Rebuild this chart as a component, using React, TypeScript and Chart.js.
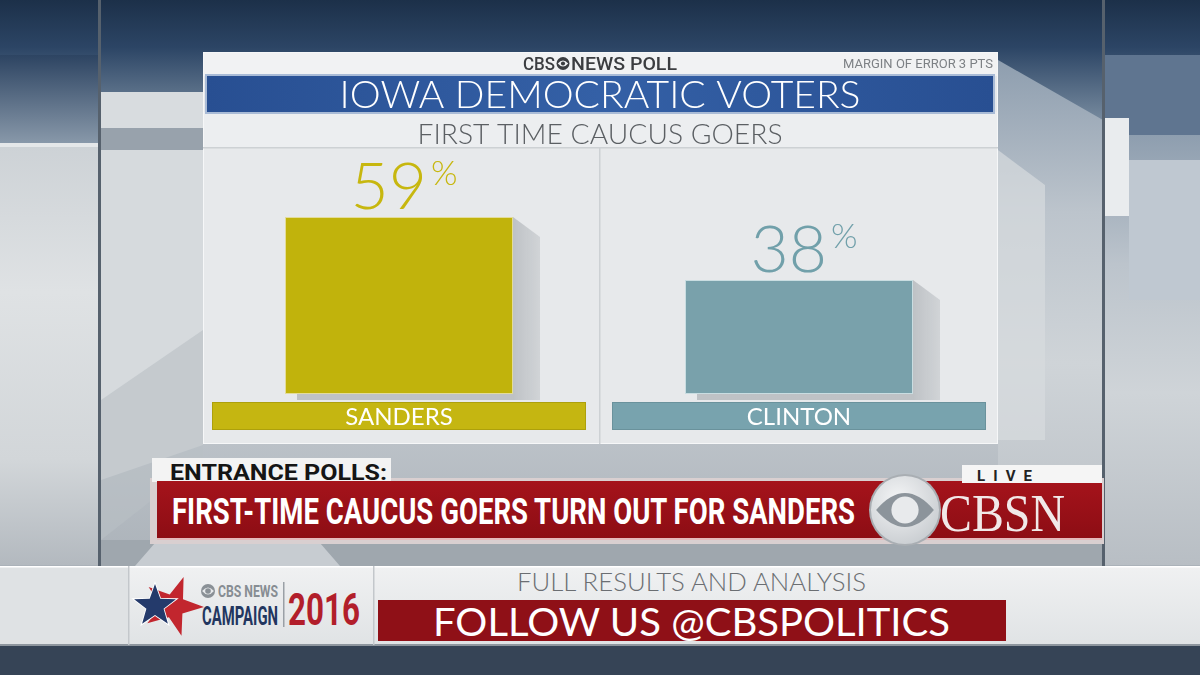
import React, { useEffect, useRef } from 'react';
import { Chart, registerables } from 'chart.js';

Chart.register(...registerables);

// ---- data ----
const candidates = ['SANDERS', 'CLINTON'];
const shares = [59, 38];
const valueSuffix = '%';
const yMin = 0;
const yMax = 80;

// ---- texts ----
const pollBrandLeft = 'CBS';
const pollBrandRight = 'NEWS POLL';
const marginNote = 'MARGIN OF ERROR 3 PTS';
const chartTitle = 'IOWA DEMOCRATIC VOTERS';
const chartSubtitle = 'FIRST TIME CAUCUS GOERS';
const tabText = 'ENTRANCE POLLS:';
const headline = 'FIRST-TIME CAUCUS GOERS TURN OUT FOR SANDERS';
const liveText = 'LIVE';
const networkText = 'CBSN';
const promoTop = 'FULL RESULTS AND ANALYSIS';
const promoMain = 'FOLLOW US @CBSPOLITICS';
const logoSmall = 'CBS NEWS';
const logoMid = 'CAMPAIGN';
const logoYear = '2016';

// ---- styles ----
const barFill = ['#c1b30c', '#79a1ab'];
const barEdge = ['#e3dc9a', '#c9dde1'];
const stripFill = ['#c5b611', '#78a3ae'];
const stripEdge = ['#ada00c', '#6a929c'];
const valueColor = ['#c7b70f', '#71a0aa'];
const THIN = '"Lato", "Open Sans", "Roboto", sans-serif';
const COND = 'Roboto, "Liberation Sans", sans-serif';

function fitText(ctx: CanvasRenderingContext2D, text: string, x: number, y: number, w: number, align: CanvasTextAlign) {
  const m = ctx.measureText(text).width;
  ctx.save();
  ctx.textAlign = align;
  ctx.translate(x, y);
  ctx.scale(w / m, 1);
  ctx.fillText(text, 0, 0);
  ctx.restore();
}

function drawEye(ctx: CanvasRenderingContext2D, cx: number, cy: number, r: number, color: string) {
  ctx.save();
  ctx.fillStyle = color;
  ctx.beginPath();
  ctx.arc(cx, cy, r, 0, Math.PI * 2);
  ctx.fill();
  ctx.fillStyle = '#f1f2f3';
  ctx.beginPath();
  ctx.moveTo(cx - r * 0.8, cy);
  ctx.quadraticCurveTo(cx, cy - r * 0.95, cx + r * 0.8, cy);
  ctx.quadraticCurveTo(cx, cy + r * 0.95, cx - r * 0.8, cy);
  ctx.fill();
  ctx.fillStyle = color;
  ctx.beginPath();
  ctx.arc(cx, cy, r * 0.32, 0, Math.PI * 2);
  ctx.fill();
  ctx.restore();
}

const panelPlugin = {
  id: 'panelPlugin',
  beforeDatasetsDraw(chart: any) {
    const ctx: CanvasRenderingContext2D = chart.ctx;
    const area = chart.chartArea;
    const midX = (area.left + area.right) / 2;
    ctx.save();
    ctx.textBaseline = 'alphabetic';
    // header brand
    ctx.fillStyle = '#3b3d40';
    ctx.font = `500 19px ${COND}`;
    fitText(ctx, pollBrandLeft, 356, 18, 32, 'right');
    drawEye(ctx, 364, 11.5, 6.5, '#3b3d40');
    fitText(ctx, pollBrandRight, 372, 18, 106, 'left');
    ctx.fillStyle = '#7d8185';
    ctx.font = `400 12px ${COND}`;
    fitText(ctx, marginNote, 794, 16, 150, 'right');
    // blue title band
    const g = ctx.createLinearGradient(8, 0, 794, 0);
    g.addColorStop(0, '#284f92');
    g.addColorStop(0.5, '#3460a6');
    g.addColorStop(1, '#284f92');
    ctx.fillStyle = '#a9bbd6';
    ctx.fillRect(6, 22, 790, 40);
    ctx.fillStyle = g;
    ctx.fillRect(8, 24, 786, 36);
    ctx.fillStyle = '#ffffff';
    ctx.font = `300 38px ${THIN}`;
    fitText(ctx, chartTitle, midX + 1, 56, 521, 'center');
    // subtitle
    ctx.fillStyle = '#5b5f63';
    ctx.font = `300 28px ${THIN}`;
    fitText(ctx, chartSubtitle, midX + 1, 92, 365, 'center');
    // separators
    ctx.fillStyle = '#cdd1d4';
    ctx.fillRect(4, 95, 795, 1.5);
    ctx.fillRect(midX, 96, 1.5, 296);
    // bar shadows
    const meta = chart.getDatasetMeta(0);
    meta.data.forEach((bar: any) => {
      const left = bar.x - bar.width / 2;
      const right = bar.x + bar.width / 2;
      const sg = ctx.createLinearGradient(right, 0, right + 28, 0);
      sg.addColorStop(0, 'rgba(150,155,160,0.5)');
      sg.addColorStop(1, 'rgba(175,180,185,0.4)');
      ctx.fillStyle = sg;
      ctx.beginPath();
      ctx.moveTo(right, bar.y);
      ctx.lineTo(right + 27, bar.y + 20);
      ctx.lineTo(right + 27, bar.base + 6);
      ctx.lineTo(left + 12, bar.base + 6);
      ctx.lineTo(left + 12, bar.base);
      ctx.closePath();
      ctx.fill();
    });
    ctx.restore();
  },
  afterDatasetsDraw(chart: any) {
    const ctx: CanvasRenderingContext2D = chart.ctx;
    const meta = chart.getDatasetMeta(0);
    ctx.save();
    meta.data.forEach((bar: any, i: number) => {
      // label strip
      ctx.fillStyle = stripEdge[i];
      ctx.fillRect(bar.x - 187, 350, 374, 28);
      ctx.fillStyle = stripFill[i];
      ctx.fillRect(bar.x - 186, 351, 372, 26);
      ctx.fillStyle = '#ffffff';
      ctx.font = `400 24px ${THIN}`;
      ctx.textAlign = 'center';
      ctx.textBaseline = 'alphabetic';
      ctx.fillText(candidates[i], bar.x, 373);
      // value
      const base = bar.y - 8;
      ctx.fillStyle = valueColor[i];
      ctx.font = `300 66px ${THIN}`;
      ctx.textAlign = 'right';
      ctx.fillText(String(shares[i]), bar.x + 28, base);
      ctx.font = `300 34px ${THIN}`;
      ctx.textAlign = 'left';
      ctx.textBaseline = 'top';
      ctx.fillText(valueSuffix, bar.x + 32, base - 52);
    });
    ctx.restore();
  },
};

function ChartPanel() {
  const ref = useRef<HTMLCanvasElement>(null);
  useEffect(() => {
    if (!ref.current) return;
    const chart = new Chart(ref.current, {
      type: 'bar',
      data: {
        labels: candidates,
        datasets: [
          {
            data: shares,
            backgroundColor: barFill,
            borderColor: barEdge,
            borderWidth: 1,
            borderSkipped: false,
            barPercentage: 0.57,
            categoryPercentage: 1,
          },
        ],
      },
      options: {
        responsive: false,
        animation: false,
        devicePixelRatio: 1,
        layout: { padding: { top: 102, bottom: 50, left: 0, right: 0 } },
        plugins: { legend: { display: false }, tooltip: { enabled: false }, title: { display: false } },
        scales: {
          x: { display: false },
          y: { display: false, min: yMin, max: yMax },
        },
      },
      plugins: [panelPlugin],
    } as any);
    return () => chart.destroy();
  }, []);
  return (
    <canvas
      ref={ref}
      width={800}
      height={392}
      style={{ position: 'absolute', left: 199, top: 52, width: 800, height: 392 }}
    />
  );
}

function Eye({ cx, cy, r, ring, almond, pupil }: any) {
  return (
    <g>
      <circle cx={cx} cy={cy} r={r} fill={ring} />
      <path
        d={`M ${cx - r * 0.85} ${cy} Q ${cx} ${cy - r} ${cx + r * 0.85} ${cy} Q ${cx} ${cy + r} ${cx - r * 0.85} ${cy} Z`}
        fill={almond}
      />
      <circle cx={cx} cy={cy} r={r * 0.4} fill={pupil} />
    </g>
  );
}

function star(cx: number, cy: number, ro: number, ri: number, rot: number) {
  const pts: string[] = [];
  for (let k = 0; k < 10; k++) {
    const r = k % 2 === 0 ? ro : ri;
    const a = rot + (k * Math.PI) / 5 - Math.PI / 2;
    pts.push(`${(cx + r * Math.cos(a)).toFixed(1)},${(cy + r * Math.sin(a)).toFixed(1)}`);
  }
  return pts.join(' ');
}

function Backdrop() {
  return (
    <svg width={1200} height={675} style={{ position: 'absolute', left: 0, top: 0 }}>
      <defs>
        <linearGradient id="bg" x1="0" y1="0" x2="0" y2="1">
          <stop offset="0" stopColor="#1c3049" />
          <stop offset="0.07" stopColor="#2c4565" />
          <stop offset="0.17" stopColor="#71859a" />
          <stop offset="0.3" stopColor="#a9b3bd" />
          <stop offset="0.6" stopColor="#c0c6cc" />
          <stop offset="0.85" stopColor="#aab1b8" />
          <stop offset="1" stopColor="#8b949e" />
        </linearGradient>
        <linearGradient id="leftSurf" x1="0" y1="0" x2="0" y2="1">
          <stop offset="0" stopColor="#cdd2d6" />
          <stop offset="0.35" stopColor="#dfe2e4" />
          <stop offset="0.75" stopColor="#d2d6d9" />
          <stop offset="1" stopColor="#b3b9bf" />
        </linearGradient>
        <linearGradient id="leftTop" x1="0" y1="0" x2="0" y2="1">
          <stop offset="0" stopColor="#2d4462" />
          <stop offset="1" stopColor="#8a9aab" />
        </linearGradient>
        <linearGradient id="rightSurf" x1="0" y1="0" x2="0" y2="1">
          <stop offset="0" stopColor="#8e9eaf" />
          <stop offset="0.3" stopColor="#bcc4cc" />
          <stop offset="0.6" stopColor="#cfd4d8" />
          <stop offset="1" stopColor="#b8bec4" />
        </linearGradient>
        <linearGradient id="red" x1="0" y1="0" x2="0" y2="1">
          <stop offset="0" stopColor="#a5131b" />
          <stop offset="1" stopColor="#8c0d14" />
        </linearGradient>
        <linearGradient id="botbar" x1="0" y1="0" x2="0" y2="1">
          <stop offset="0" stopColor="#f0f1f2" />
          <stop offset="1" stopColor="#e0e3e5" />
        </linearGradient>
        <radialGradient id="eyeRing" cx="0.4" cy="0.35" r="0.7">
          <stop offset="0" stopColor="#f4f5f6" />
          <stop offset="1" stopColor="#c9cdd1" />
        </radialGradient>
      </defs>
      <rect x={0} y={0} width={1200} height={675} fill="url(#bg)" />
      {/* left studio area */}
      <rect x={0} y={55} width={99} height={90} fill="url(#leftTop)" />
      <rect x={0} y={145} width={99} height={420} fill="url(#leftSurf)" />
      <rect x={0} y={143} width={99} height={4} fill="#e4e7e9" />
      <rect x={101} y={92} width={102} height={36} fill="#d8dcdf" />
      <rect x={101} y={128} width={102} height={22} fill="#98a2ac" />
      <polygon points="101,150 203,150 203,445 101,480" fill="#d6dadd" />
      <polygon points="101,400 203,330 203,460 101,540" fill="#b9bfc5" opacity={0.6} />
      {/* right studio area */}
      <polygon points="998,60 1103,120 1103,565 998,565" fill="url(#rightSurf)" />
      <polygon points="998,150 1045,185 1045,440 998,440" fill="#d7dbde" opacity={0.7} />
      <rect x={1105} y={55} width={95} height={80} fill="#5f7590" />
      <rect x={1105} y={135} width={95} height={430} fill="url(#rightSurf)" />
      <rect x={1105} y={118} width={24} height={98} fill="#e9ecee" />
      <rect x={1129} y={160} width={71} height={140} fill="#bfc8d1" />
      {/* pillars */}
      <rect x={98} y={0} width={3} height={566} fill="#56616d" />
      <rect x={1102} y={0} width={3} height={566} fill="#56616d" />
      {/* panel */}
      <rect x={203} y={52} width={795} height={392} fill="#f6f7f8" />
      <rect x={204} y={53} width={793} height={390} fill="#e7e9eb" />
      <rect x={204} y={53} width={793} height={23} fill="#f1f2f3" />
      <rect x={204} y={112} width={793} height={36} fill="#eceef0" />
      {/* under-ticker gap */}
      <rect x={101} y={540} width={1001} height={26} fill="#9fa7ae" />
      <polygon points="135,566 155,543 320,543 340,566" fill="#c7ccd1" />
      {/* lower third */}
      <rect x={150} y={478} width={954} height={66} fill="#d9cfd0" />
      <rect x={152} y={458} width={239} height={24} fill="#f3f3f3" />
      <text
        x={170}
        y={480}
        fontFamily={COND}
        fontWeight={700}
        fontSize={22}
        fill="#151515"
        textLength={217}
        lengthAdjust="spacingAndGlyphs"
      >
        {tabText}
      </text>
      <rect x={157} y={481} width={945} height={59} fill="url(#red)" />
      <rect x={157} y={538} width={945} height={2} fill="#e4b9bb" />
      <text
        x={172}
        y={524}
        fontFamily={COND}
        fontWeight={700}
        fontSize={37}
        fill="#ffffff"
        textLength={683}
        lengthAdjust="spacingAndGlyphs"
      >
        {headline}
      </text>
      <rect x={962} y={465} width={140} height={18} fill="#f5f5f5" />
      <text
        x={977}
        y={481}
        fontFamily={COND}
        fontWeight={700}
        fontSize={15}
        fill="#222222"
        textLength={55}
        lengthAdjust="spacing"
      >
        {liveText}
      </text>
      <circle cx={905} cy={510} r={36} fill="#a9aeb3" />
      <Eye cx={905} cy={510} r={34} ring="url(#eyeRing)" almond="#8c949b" pupil="#e8eaec" />
      <text
        x={940}
        y={531}
        fontFamily='"Liberation Serif", "DejaVu Serif", serif'
        fontSize={52}
        fill="#f1e8e8"
        textLength={125}
        lengthAdjust="spacingAndGlyphs"
      >
        {networkText}
      </text>
      {/* bottom bar */}
      <rect x={0} y={566} width={1200} height={79} fill="url(#botbar)" />
      <rect x={0} y={566} width={128} height={79} fill="#dfe2e4" />
      <rect x={0} y={566} width={1200} height={1.5} fill="#ffffff" />
      <rect x={0} y={644} width={1200} height={2} fill="#8e969e" />
      <rect x={0} y={646} width={1200} height={29} fill="#364456" />
      <rect x={128} y={566} width={1.5} height={79} fill="#c3c7cb" />
      <rect x={373} y={566} width={1.5} height={79} fill="#c3c7cb" />
      <polygon points={star(173, 606, 31, 12, 0.35)} fill="#c2262e" />
      <polygon points={star(155, 606, 25, 10, 0)} fill="#ffffff" />
      <polygon points={star(155, 606, 22, 9, 0)} fill="#243a6b" />
      <Eye cx={208} cy={591} r={7} ring="#8a9096" almond="#e8eaec" pupil="#8a9096" />
      <text
        x={218}
        y={597}
        fontFamily={COND}
        fontWeight={700}
        fontSize={16}
        fill="#878d93"
        textLength={60}
        lengthAdjust="spacingAndGlyphs"
      >
        {logoSmall}
      </text>
      <text
        x={202}
        y={625}
        fontFamily={COND}
        fontWeight={700}
        fontSize={25}
        fill="#22365f"
        textLength={76}
        lengthAdjust="spacingAndGlyphs"
      >
        {logoMid}
      </text>
      <rect x={283} y={582} width={1.5} height={45} fill="#9aa0a6" />
      <text
        x={288}
        y={625}
        fontFamily={COND}
        fontWeight={700}
        fontSize={44}
        fill="#b21e2b"
        textLength={72}
        lengthAdjust="spacingAndGlyphs"
      >
        {logoYear}
      </text>
      <text
        x={517}
        y={591}
        fontFamily={THIN}
        fontWeight={300}
        fontSize={25}
        fill="#6b6e72"
        textLength={349}
        lengthAdjust="spacingAndGlyphs"
      >
        {promoTop}
      </text>
      <rect x={378} y={600} width={628} height={41} fill="#8f1017" />
      <text
        x={433}
        y={636}
        fontFamily={THIN}
        fontWeight={400}
        fontSize={38}
        fill="#ffffff"
        textLength={517}
        lengthAdjust="spacingAndGlyphs"
      >
        {promoMain}
      </text>
    </svg>
  );
}

export default function App() {
  return (
    <div
      style={{
        position: 'fixed',
        left: 0,
        top: 0,
        width: 1200,
        height: 675,
        overflow: 'hidden',
        background: '#8b949e',
      }}
    >
      <Backdrop />
      <ChartPanel />
    </div>
  );
}
